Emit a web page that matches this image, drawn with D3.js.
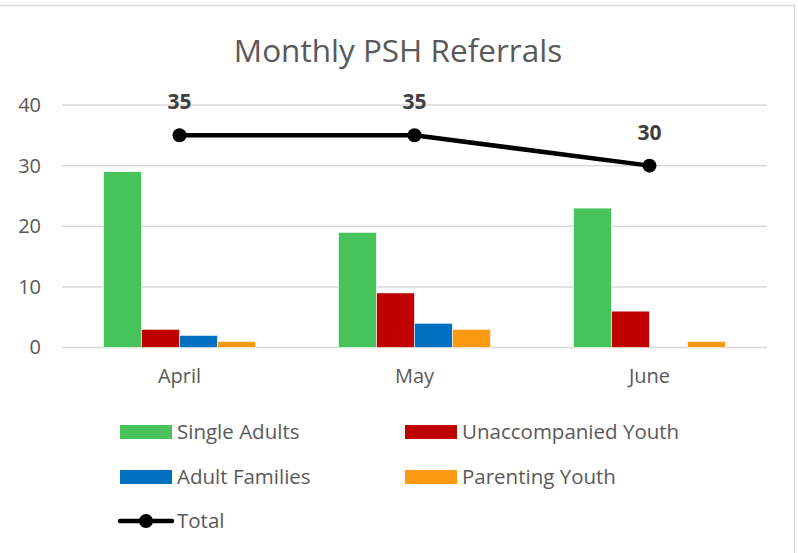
<!DOCTYPE html>
<html>
<head>
<meta charset="utf-8">
<script src="https://cdn.jsdelivr.net/npm/d3@7"></script>
<style>
  body { margin: 0; background: #fff; }
  text { font-family: "Open Sans", "Noto Sans", sans-serif; }
</style>
</head>
<body>
<script>
// data
var months = ["April", "May", "June"];
var seriesNames = ["Single Adults", "Unaccompanied Youth", "Adult Families", "Parenting Youth"];
var singleAdults = [29, 19, 23];
var unaccompaniedYouth = [3, 9, 6];
var adultFamilies = [2, 4, 0];
var parentingYouth = [1, 3, 1];
var totals = [35, 35, 30];
var yTicks = [0, 10, 20, 30, 40];

var colors = ["#48C25B", "#C00000", "#0070C0", "#FD9A12"];
var seriesValues = [singleAdults, unaccompaniedYouth, adultFamilies, parentingYouth];

var W = 798, H = 553;
var plotLeft = 62, plotRight = 767, plotTop = 105, plotBottom = 347.5;

var svg = d3.select("body").append("svg")
    .attr("width", W)
    .attr("height", H);

// chart border
svg.append("rect")
    .attr("x", -10).attr("y", 5.5)
    .attr("width", 804.5).attr("height", 600)
    .attr("fill", "#fff")
    .attr("stroke", "#D9D9D9")
    .attr("stroke-width", 1.5);

// title
svg.append("text")
    .attr("x", 398).attr("y", 62)
    .attr("text-anchor", "middle")
    .attr("font-size", 31.5)
    .attr("fill", "#595959")
    .text("Monthly PSH Referrals");

// scales
var x0 = d3.scaleBand()
    .domain(months)
    .range([plotLeft, plotRight])
    .paddingInner(0.3532)
    .paddingOuter(0.1766);

var x1 = d3.scaleBand()
    .domain(seriesNames)
    .range([0, x0.bandwidth()]);

var y = d3.scaleLinear()
    .domain([0, 40])
    .range([plotBottom, plotTop]);

// gridlines
svg.append("g")
    .selectAll("line")
    .data(yTicks)
    .enter().append("line")
    .attr("x1", plotLeft).attr("x2", plotRight)
    .attr("y1", function (d) { return y(d); })
    .attr("y2", function (d) { return y(d); })
    .attr("stroke", "#D9D9D9")
    .attr("stroke-width", 1.5);

// y axis labels
var yAxis = svg.append("g")
    .attr("transform", "translate(" + (plotLeft - 21) + ",0)")
    .call(d3.axisLeft(y).tickValues(yTicks).tickSize(0).tickPadding(0));
yAxis.select(".domain").remove();
yAxis.selectAll("text")
    .attr("font-size", 20)
    .attr("font-family", "'Open Sans', sans-serif")
    .attr("fill", "#595959");

// x axis labels
var xAxis = svg.append("g")
    .attr("transform", "translate(0," + plotBottom + ")")
    .call(d3.axisBottom(x0).tickSize(0).tickPadding(21));
xAxis.select(".domain").remove();
xAxis.selectAll("text")
    .attr("font-size", 20)
    .attr("font-family", "'Open Sans', sans-serif")
    .attr("fill", "#595959");

// bars
var bars = [];
months.forEach(function (m, i) {
    seriesNames.forEach(function (s, j) {
        bars.push({ month: m, series: s, value: seriesValues[j][i], color: colors[j] });
    });
});

svg.append("g")
    .selectAll("rect")
    .data(bars)
    .enter().append("rect")
    .attr("x", function (d) { return x0(d.month) + x1(d.series); })
    .attr("y", function (d) { return y(d.value); })
    .attr("width", x1.bandwidth())
    .attr("height", function (d) { return y(0) - y(d.value); })
    .attr("fill", function (d) { return d.color; })
    .attr("stroke", "#fff")
    .attr("stroke-width", 0.6);

// total line
var cx = function (d, i) { return x0(months[i]) + x0.bandwidth() / 2; };
var line = d3.line()
    .x(cx)
    .y(function (d) { return y(d); });

svg.append("path")
    .datum(totals)
    .attr("d", line)
    .attr("fill", "none")
    .attr("stroke", "#000")
    .attr("stroke-width", 4.5)
    .attr("stroke-linejoin", "round");

svg.append("g")
    .selectAll("circle")
    .data(totals)
    .enter().append("circle")
    .attr("cx", cx)
    .attr("cy", function (d) { return y(d); })
    .attr("r", 7)
    .attr("fill", "#000");

svg.append("g")
    .selectAll("text")
    .data(totals)
    .enter().append("text")
    .attr("x", cx)
    .attr("y", function (d) { return y(d) - 26; })
    .attr("text-anchor", "middle")
    .attr("font-size", 21)
    .attr("font-weight", "bold")
    .attr("fill", "#404040")
    .text(function (d) { return d; });

// legend
var legendItems = [
    { name: seriesNames[0], color: colors[0], x: 120, y: 432 },
    { name: seriesNames[1], color: colors[1], x: 405, y: 432 },
    { name: seriesNames[2], color: colors[2], x: 120, y: 477 },
    { name: seriesNames[3], color: colors[3], x: 405, y: 477 }
];

var legend = svg.append("g");
legendItems.forEach(function (d) {
    legend.append("rect")
        .attr("x", d.x).attr("y", d.y - 7)
        .attr("width", 52).attr("height", 14)
        .attr("fill", d.color);
    legend.append("text")
        .attr("x", d.x + 57).attr("y", d.y)
        .attr("dy", "0.35em")
        .attr("font-size", 20.5)
        .attr("fill", "#595959")
        .text(d.name);
});

// total legend entry
legend.append("line")
    .attr("x1", 120).attr("x2", 172)
    .attr("y1", 521).attr("y2", 521)
    .attr("stroke", "#000")
    .attr("stroke-width", 4.5)
    .attr("stroke-linecap", "round");
legend.append("circle")
    .attr("cx", 146).attr("cy", 521).attr("r", 7)
    .attr("fill", "#000");
legend.append("text")
    .attr("x", 177).attr("y", 521)
    .attr("dy", "0.35em")
    .attr("font-size", 20.5)
    .attr("fill", "#595959")
    .text("Total");
</script>
</body>
</html>
